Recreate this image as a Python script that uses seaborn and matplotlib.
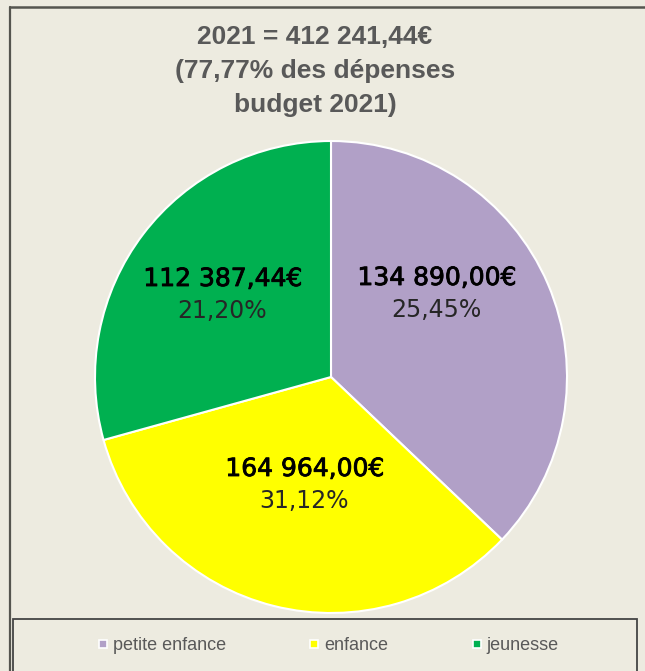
import matplotlib
matplotlib.use("Agg")

import matplotlib.pyplot as plt
import matplotlib.patheffects as pe
import seaborn as sns
from matplotlib.lines import Line2D
from matplotlib.patches import Rectangle

# ---------------------------------------------------------------------------
# Data
# ---------------------------------------------------------------------------
categories = ["petite enfance", "enfance", "jeunesse"]
amounts = [134890.00, 164964.00, 112387.44]        # label values (€)
budget_pct = [25.45, 31.12, 21.20]                 # label percentages
slice_share = [37.1, 33.6, 29.3]                   # wedge sizes as drawn (%)
colors = ["#B1A0C7", "#FFFF00", "#00B050"]

title_lines = ["2021 = 412 241,44€", "(77,77% des dépenses", "budget 2021)"]

BG = "#EDEBE0"
GREY = "#595959"
W, H = 645, 671


def fmt_eur(v):
    return f"{v:,.2f}".replace(",", " ").replace(".", ",") + "€"


def fx(px):
    return px / W


def fy(py):
    return 1 - py / H


sns.set_theme(style="white")
plt.rcParams["font.family"] = ["DejaVu Sans"]

fig = plt.figure(figsize=(W / 100, H / 100), dpi=100, facecolor=BG)

# pie axes: centre (331, 377) px, radius ~236 px
cx, cy, r = 331, 377, 236
ax = fig.add_axes([fx(cx - r), fy(cy + r), 2 * r / W, 2 * r / H])
ax.set_facecolor("none")
ax.pie(
    slice_share, colors=colors, startangle=90, counterclock=False,
    radius=1.0, wedgeprops=dict(edgecolor="white", linewidth=1.5),
)
ax.set_xlim(-1, 1)
ax.set_ylim(-1, 1)
ax.set_aspect("equal")
ax.axis("off")

# data labels (pixel anchors: centre x, baseline of value line)
label_px = [(437, 285), (305, 476), (223, 286)]
for (x, y), amt, pct in zip(label_px, amounts, budget_pct):
    fig.text(fx(x), fy(y), fmt_eur(amt), ha="center", va="baseline",
             fontsize=18, color="black",
             path_effects=[pe.withStroke(linewidth=0.6, foreground="black")])
    fig.text(fx(x - 1), fy(y + 32), f"{pct:.2f}%".replace(".", ","),
             ha="center", va="baseline", fontsize=17, color="#262626")

# title
for i, line in enumerate(title_lines):
    fig.text(fx(315), fy(44 + i * 34), line, ha="center", va="baseline",
             fontsize=19, fontweight="bold", color=GREY,
             family=["Liberation Sans", "DejaVu Sans"])

# outer frame (left + top)
fig.add_artist(Line2D([fx(9.5), fx(9.5)], [0, fy(7)], transform=fig.transFigure,
                      color="#55554F", linewidth=1.6))
fig.add_artist(Line2D([fx(9.5), 1], [fy(7), fy(7)], transform=fig.transFigure,
                      color="#55554F", linewidth=1.8))

# legend box
fig.add_artist(Rectangle((fx(12.5), -0.01), fx(637) - fx(12.5), fy(619) + 0.01,
                         transform=fig.transFigure, facecolor=BG,
                         edgecolor="#444444", linewidth=1.3))

handles = [Line2D([0], [0], marker="s", linestyle="none", markersize=6,
                  markerfacecolor=c, markeredgecolor="white", markeredgewidth=1.2)
           for c in colors]
leg = fig.legend(handles, categories, loc="center", bbox_to_anchor=(fx(328), fy(646)),
                 ncol=3, frameon=False, columnspacing=4.6, handletextpad=0.25,
                 handlelength=0.6, borderpad=0,
                 prop={"family": ["Liberation Sans", "DejaVu Sans"], "size": 13})
for t in leg.get_texts():
    t.set_color(GREY)

fig.savefig("out.png", dpi=100, facecolor=BG)
